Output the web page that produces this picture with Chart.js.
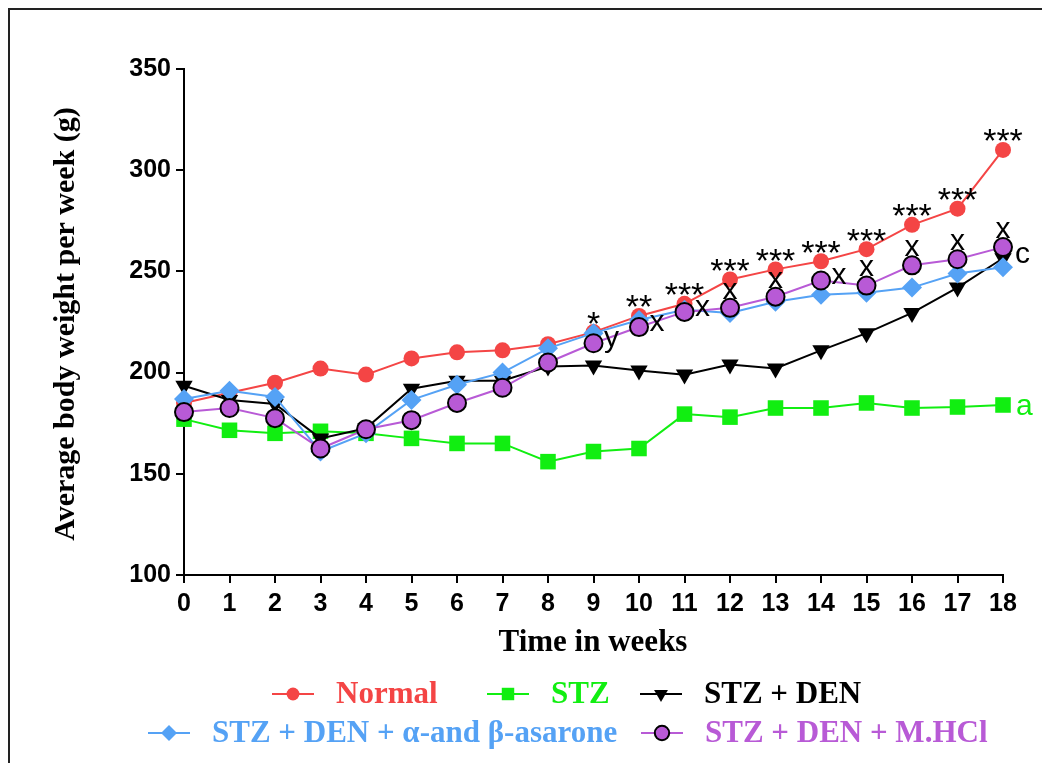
<!DOCTYPE html>
<html>
<head>
<meta charset="utf-8">
<title>Average body weight per week</title>
<script src="https://cdn.jsdelivr.net/npm/chart.js@4/dist/chart.umd.min.js"></script>
<style>
  html, body { margin: 0; padding: 0; background: #fff; }
  #wrap { width: 1042px; height: 763px; }
</style>
</head>
<body>
<div id="wrap"><canvas id="weightChart" width="1042" height="763"></canvas></div>
<script>
// weekly mean body weights (g)
const weeks = ['0', '1', '2', '3', '4', '5', '6', '7', '8', '9', '10', '11', '12', '13', '14', '15', '16', '17', '18'];
const normal = [185, 190, 195, 202, 199, 207, 210, 211, 214, 220, 228, 234, 246, 251, 255, 261, 273, 281, 310];
const stz = [177, 171.5, 170, 171, 170, 167.5, 165, 165, 156, 161, 162.5, 179.5, 178, 182.5, 182.5, 185, 182.5, 183, 184];
const stzDen = [193.5, 186.5, 184.5, 167.5, 172.5, 192, 196, 196, 203, 203.5, 201, 199, 204, 202, 211, 219.5, 229.5, 242, 256.5];
const asarone = [187, 191, 188, 161, 170, 186.5, 194, 200, 212, 219.5, 226, 231, 229.5, 235, 238.5, 239.5, 242, 249, 252];
const mhcl = [180.5, 182.5, 177.5, 162.5, 172, 176.5, 185, 192.5, 205, 214.5, 222.5, 230, 232, 237.5, 245.5, 243, 253, 256, 262];

// significance marks
const normalStars = ['', '', '', '', '', '', '', '', '', '*', '**', '***', '***', '***', '***', '***', '***', '***', '***'];
const mhclMarks = ['', '', '', '', '', '', '', '', '', 'y', 'x', 'x', 'x', 'x', 'x', 'x', 'x', 'x', 'x'];
const mhclSide = ['', '', '', '', '', '', '', '', '', 'right', 'right', 'right', 'above', 'above', 'right', 'above', 'above', 'above', 'above'];
const endMarks = { stzDen: 'c', stz: 'a' };

const RED = '#F44545';
const GREEN = '#11EE11';
const BLACK = '#000000';
const BLUE = '#55A2F5';
const PURPLE = '#B85AD6';

const serif = "'Liberation Serif', 'Times New Roman', serif";
const sans = "'Liberation Sans', Arial, sans-serif";

const pageFrame = {
    id: 'pageFrame',
    beforeDraw(chart) {
        const ctx = chart.ctx;
        ctx.save();
        ctx.fillStyle = '#fff';
        ctx.fillRect(0, 0, chart.width, chart.height);
        ctx.strokeStyle = '#222';
        ctx.lineWidth = 2;
        ctx.beginPath();
        ctx.moveTo(9, chart.height);
        ctx.lineTo(9, 9);
        ctx.lineTo(chart.width, 9);
        ctx.stroke();
        ctx.restore();
    }
};

const sigLabels = {
    id: 'sigLabels',
    afterDatasetsDraw(chart) {
        const ctx = chart.ctx;
        const xs = chart.scales.x, ys = chart.scales.y;
        ctx.save();
        ctx.fillStyle = '#000';
        ctx.textAlign = 'center';
        ctx.textBaseline = 'alphabetic';

        const starSize = 34;
        ctx.font = starSize + 'px ' + sans;
        normalStars.forEach((s, i) => {
            if (!s) return;
            const px = xs.getPixelForValue(i);
            const py = ys.getPixelForValue(normal[i]);
            ctx.fillText(s, px, py - 17 + 0.57 * starSize);
        });

        const letterSize = 30;
        ctx.font = letterSize + 'px ' + sans;
        mhclMarks.forEach((m, i) => {
            if (!m) return;
            const px = xs.getPixelForValue(i);
            const py = ys.getPixelForValue(mhcl[i]);
            let cx = px, cy = py;
            if (mhclSide[i] === 'right') { cx = px + 18; cy = py - 4; }
            else { cy = py - 17; }
            ctx.fillText(m, cx, cy + 0.26 * letterSize);
        });

        const last = weeks.length - 1;
        const lx = xs.getPixelForValue(last);
        ctx.textAlign = 'left';
        ctx.fillStyle = '#000';
        ctx.fillText(endMarks.stzDen, lx + 12, ys.getPixelForValue(mhcl[last]) + 8 + 0.26 * letterSize);
        ctx.fillStyle = GREEN;
        ctx.fillText(endMarks.stz, lx + 13, ys.getPixelForValue(stz[last]) + 2 + 0.26 * letterSize);
        ctx.restore();
    }
};

const titlesAndLegend = {
    id: 'titlesAndLegend',
    afterDraw(chart) {
        const ctx = chart.ctx;
        ctx.save();
        ctx.fillStyle = '#000';
        ctx.textAlign = 'center';
        ctx.textBaseline = 'middle';

        ctx.font = 'bold 30px ' + serif;
        ctx.save();
        ctx.translate(66, 324);
        ctx.rotate(-Math.PI / 2);
        ctx.fillText('Average body weight per week (g)', 0, 0);
        ctx.restore();

        ctx.font = 'bold 31px ' + serif;
        ctx.fillText('Time in weeks', 593, 643);

        // legend: short line with marker, then coloured label
        const items = [
            { ds: 0, x: 272, y: 694, text: 'Normal' },
            { ds: 1, x: 487, y: 694, text: 'STZ' },
            { ds: 2, x: 640, y: 694, text: 'STZ + DEN' },
            { ds: 3, x: 148, y: 733, text: 'STZ + DEN + \u03b1-and \u03b2-asarone' },
            { ds: 4, x: 641, y: 733, text: 'STZ + DEN + M.HCl' }
        ];
        items.forEach(it => {
            const d = chart.data.datasets[it.ds];
            const len = 42;
            ctx.strokeStyle = d.borderColor;
            ctx.lineWidth = 2;
            ctx.beginPath();
            ctx.moveTo(it.x, it.y);
            ctx.lineTo(it.x + len, it.y);
            ctx.stroke();
            ctx.fillStyle = d.pointBackgroundColor;
            ctx.strokeStyle = d.pointBorderColor;
            Chart.helpers.drawPoint(ctx, {
                pointStyle: d.pointStyle,
                rotation: d.pointRotation || 0,
                radius: d.pointRadius * 0.8,
                borderWidth: d.pointBorderWidth
            }, it.x + len / 2, it.y);
            ctx.fillStyle = d.labelColor;
            ctx.textAlign = 'left';
            ctx.font = 'bold 31px ' + serif;
            ctx.fillText(it.text, it.x + len + 22, it.y + 1);
        });
        ctx.restore();
    }
};

const tickFont = { family: sans, size: 25, weight: 'bold' };

new Chart(document.getElementById('weightChart'), {
    type: 'line',
    data: {
        labels: weeks,
        datasets: [
            {
                label: 'Normal', data: normal, order: 3,
                borderColor: RED, borderWidth: 2, labelColor: RED,
                pointStyle: 'circle', pointRadius: 8,
                pointBackgroundColor: RED, pointBorderColor: RED, pointBorderWidth: 0
            },
            {
                label: 'STZ', data: stz, order: 4,
                borderColor: GREEN, borderWidth: 2, labelColor: GREEN,
                pointStyle: 'rect', pointRadius: 11,
                pointBackgroundColor: GREEN, pointBorderColor: GREEN, pointBorderWidth: 0
            },
            {
                label: 'STZ + DEN', data: stzDen, order: 2,
                borderColor: BLACK, borderWidth: 2, labelColor: BLACK,
                pointStyle: 'triangle', pointRotation: 180, pointRadius: 10,
                pointBackgroundColor: BLACK, pointBorderColor: BLACK, pointBorderWidth: 0
            },
            {
                label: 'STZ + DEN + \u03b1-and \u03b2-asarone', data: asarone, order: 1,
                borderColor: BLUE, borderWidth: 2, labelColor: BLUE,
                pointStyle: 'rectRot', pointRadius: 10,
                pointBackgroundColor: BLUE, pointBorderColor: BLUE, pointBorderWidth: 0
            },
            {
                label: 'STZ + DEN + M.HCl', data: mhcl, order: 0,
                borderColor: PURPLE, borderWidth: 2, labelColor: PURPLE,
                pointStyle: 'circle', pointRadius: 9,
                pointBackgroundColor: PURPLE, pointBorderColor: '#000', pointBorderWidth: 2
            }
        ]
    },
    options: {
        responsive: false,
        animation: false,
        devicePixelRatio: 1,
        layout: { padding: { left: 0, top: 69, right: 39, bottom: 0 } },
        plugins: {
            legend: { display: false },
            tooltip: { enabled: false }
        },
        elements: { line: { tension: 0 } },
        scales: {
            x: {
                type: 'category',
                offset: false,
                afterFit(scale) { scale.height = 188; },
                grid: { drawOnChartArea: false, drawTicks: true, tickLength: 8, color: '#000', lineWidth: 2 },
                border: { display: true, color: '#000', width: 2 },
                ticks: { color: '#000', font: tickFont, padding: 6, maxRotation: 0, autoSkip: false }
            },
            y: {
                min: 100,
                max: 350,
                afterFit(scale) { scale.width = 184; },
                grid: { drawOnChartArea: false, drawTicks: true, tickLength: 8, color: '#000', lineWidth: 2 },
                border: { display: true, color: '#000', width: 2 },
                ticks: { color: '#000', font: tickFont, stepSize: 50, padding: 5 }
            }
        }
    },
    plugins: [pageFrame, sigLabels, titlesAndLegend]
});
</script>
</body>
</html>
